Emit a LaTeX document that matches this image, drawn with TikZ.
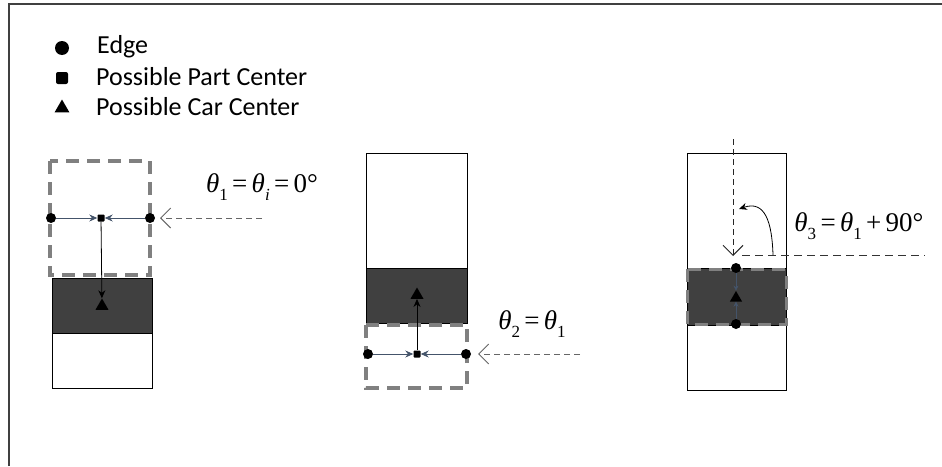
\documentclass[tikz,border=0pt]{standalone}
\usepackage{fontspec}
\setmainfont{Carlito}
\newfontfamily\tnr{Liberation Serif}
\usetikzlibrary{arrows.meta,shapes.geometric}
\definecolor{darkfill}{RGB}{64,64,64}
\definecolor{dashgray}{RGB}{128,128,128}
\definecolor{bluearr}{RGB}{68,84,106}
\newcommand{\sbs}[1]{\raisebox{-0.3em}{\fontsize{17}{17}\selectfont #1}}
\newcommand{\eqs}{\hspace{0.16em}=\hspace{0.16em}}
\tikzset{
  edgept/.style={circle,fill=black,inner sep=0pt,minimum size=10pt},
  partpt/.style={rectangle,fill=black,inner sep=0pt,minimum size=7pt,rounded corners=0.8pt},
  carpt/.style={regular polygon,regular polygon sides=3,fill=black,inner sep=0pt,minimum size=15pt},
  whitebox/.style={draw=black,line width=0.9pt,fill=white},
  darkbox/.style={draw=black,line width=0.9pt,fill=darkfill},
  dashbox/.style={draw=dashgray,line width=3.5pt,dash pattern=on 13pt off 8pt},
  bluearrow/.style={draw=bluearr,line width=0.8pt,-{Stealth[length=8pt,width=7pt]}},
  blackarrow/.style={draw=black,line width=0.8pt,-{Stealth[length=8pt,width=7pt]}},
  incoming/.style={draw=dashgray!80!black,line width=1pt,dash pattern=on 6pt off 4pt,-{Straight Barb[length=10pt,width=20pt,line width=1pt]}},
  legtext/.style={anchor=west,font=\fontsize{26}{30}\selectfont,inner sep=0pt},
  anglabel/.style={font=\tnr\fontsize{27}{30}\selectfont,inner sep=0pt}
}
\begin{document}
\begin{tikzpicture}[x=1pt,y=-1pt]
\useasboundingbox (0,0) rectangle (942,466);
% frame
\draw[line width=1.6pt,draw=black!75] (9,466) -- (9,4) -- (942,4);

% legend
\node[edgept,minimum size=14pt] (lg1) at (62,48) {};
\node[partpt,minimum size=12pt,rounded corners=2pt] (lg2) at (62,78) {};
\node[carpt,minimum size=17pt] (lg3) at (62,108) {};
\node[legtext] (lt1) at (97,47) {Edge};
\node[legtext] (lt2) at (96,77) {Possible Part Center};
\node[legtext] (lt3) at (96,107) {Possible Car Center};

% ---------- left diagram ----------
\draw[darkbox] (52,278) rectangle (152,333);
\draw[whitebox] (52,333) rectangle (152,388);
\draw[dashbox] (50,161) rectangle (150,275);
\node[edgept] (a1) at (51,218) {};
\node[edgept] (a2) at (150,218) {};
\node[partpt] (ap) at (101,218) {};
\node[carpt] (ac) at (102,306) {};
\draw[bluearrow] (a1) -- (ap);
\draw[bluearrow] (a2) -- (ap);
\draw[blackarrow] (ap) -- (ac);
\coordinate (ain) at (262,218);
\coordinate (aend) at (160,218);
\draw[incoming] (ain) -- (aend);
\node[anglabel] (al) at (262,187) {{\itshape θ}\sbs{1}\eqs{\itshape θ}\sbs{\itshape i}\eqs 0°};

% ---------- middle diagram ----------
\draw[whitebox] (366,153) rectangle (467,268);
\draw[darkbox] (366,268) rectangle (467,323);
\draw[dashbox] (366,325) rectangle (467,388);
\node[edgept] (b1) at (368,354) {};
\node[edgept] (b2) at (466,354) {};
\node[partpt] (bp) at (417,354) {};
\node[carpt] (bc) at (417,295) {};
\draw[bluearrow] (b1) -- (bp);
\draw[bluearrow] (b2) -- (bp);
\draw[blackarrow] (bp) -- (bc);
\coordinate (bin) at (580,354);
\coordinate (bend) at (478,354);
\draw[incoming] (bin) -- (bend);
\node[anglabel] (bl) at (532,324) {{\itshape θ}\sbs{2}\eqs{\itshape θ}\sbs{1}};

% ---------- right diagram ----------
\draw[whitebox] (687,153) rectangle (786,268);
\draw[darkbox] (687,268) rectangle (786,325);
\draw[whitebox] (687,325) rectangle (786,390);
\draw[dashbox,line width=3pt] (687,269) rectangle (786,324);
\node[edgept] (c1) at (736,268) {};
\node[edgept] (c2) at (736,324) {};
\node[carpt,minimum size=14pt] (cc) at (736,298) {};
\draw[bluearrow,line width=0.6pt,-{Stealth[length=5pt,width=5pt]}] (c1) -- (cc);
\draw[bluearrow,line width=0.6pt,-{Stealth[length=5pt,width=5pt]}] (c2) -- (cc);
\coordinate (ctop) at (733,139);
\coordinate (cend) at (733,256);
\draw[incoming,draw=black!85] (ctop) -- (cend);
\coordinate (hs) at (742,255);
\coordinate (he) at (925,255);
\draw[draw=black!80,line width=1pt,dash pattern=on 8pt off 5pt] (hs) -- (he);
\coordinate (arcs) at (773,255);
\coordinate (arce) at (739,209);
\draw[line width=0.8pt,-{Stealth[length=8pt,width=7pt]}] (arcs) .. controls (772,222) and (765,200) .. (arce);
\node[anglabel] (cl) at (859,226) {{\itshape θ}\sbs{3}\eqs{\itshape θ}\sbs{1}\hspace{0.16em}+\hspace{0.16em}90°};
\end{tikzpicture}
\end{document}
